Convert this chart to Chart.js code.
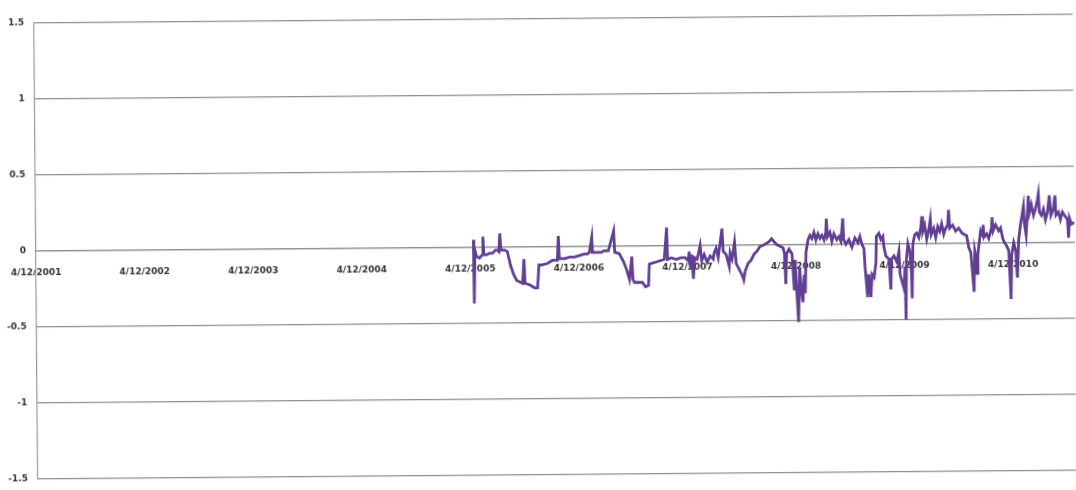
<!DOCTYPE html>
<html lang="en">
<head>
  <meta charset="UTF-8">
  <title>Series since 4/12/2001</title>
  <script src="https://cdn.jsdelivr.net/npm/chart.js"></script>
  <style>
    html, body { margin: 0; padding: 0; background: #fff; overflow: hidden; }
    /* the scanned page sits a little crooked */
    .wrap { width: 1076px; height: 490px; transform: rotate(-0.48deg); transform-origin: 50% 50%; }
  </style>
</head>
<body>
  <div class="wrap"><canvas id="lineChart"></canvas></div>

  <script>
    // x = years after 4/12/2001
    const tickLabels = ['4/12/2001', '4/12/2002', '4/12/2003', '4/12/2004', '4/12/2005',
                        '4/12/2006', '4/12/2007', '4/12/2008', '4/12/2009', '4/12/2010'];
    const xMax = 9.568;

    const xYears = [
      4.030, 4.034, 4.043, 4.057, 4.085, 4.112, 4.117, 4.126, 4.149, 4.177,
      4.204, 4.232, 4.250, 4.264, 4.273, 4.283, 4.315, 4.342, 4.370, 4.398,
      4.425, 4.480, 4.494, 4.503, 4.545, 4.591, 4.618, 4.632, 4.655, 4.710,
      4.756, 4.802, 4.812, 4.821, 4.867, 4.913, 4.959, 5.005, 5.051, 5.078,
      5.097, 5.120, 5.126, 5.161, 5.207, 5.235, 5.272, 5.322, 5.331, 5.373,
      5.410, 5.437, 5.465, 5.488, 5.497, 5.511, 5.557, 5.584, 5.612, 5.640,
      5.649, 5.695, 5.741, 5.787, 5.810, 5.817, 5.851, 5.897, 5.943, 5.980,
      6.008, 6.017, 6.026, 6.040, 6.054, 6.067, 6.090, 6.118, 6.132, 6.155,
      6.182, 6.210, 6.238, 6.247, 6.265, 6.284, 6.320, 6.330, 6.357, 6.385,
      6.394, 6.412, 6.435, 6.449, 6.477, 6.504, 6.518, 6.532, 6.560, 6.587,
      6.615, 6.642, 6.670, 6.707, 6.753, 6.776, 6.799, 6.826, 6.854, 6.882,
      6.895, 6.905, 6.914, 6.937, 6.964, 6.983, 6.992, 7.001, 7.020, 7.033,
      7.047, 7.061, 7.075, 7.084, 7.093, 7.112, 7.130, 7.148, 7.167, 7.185,
      7.204, 7.222, 7.240, 7.259, 7.277, 7.282, 7.291, 7.314, 7.332, 7.351,
      7.378, 7.397, 7.415, 7.434, 7.441, 7.461, 7.489, 7.516, 7.544, 7.572,
      7.590, 7.608, 7.627, 7.636, 7.650, 7.657, 7.668, 7.682, 7.688, 7.700,
      7.719, 7.737, 7.742, 7.765, 7.783, 7.802, 7.811, 7.829, 7.857, 7.872,
      7.880, 7.903, 7.930, 7.949, 7.958, 7.976, 7.995, 8.004, 8.010, 8.018,
      8.032, 8.050, 8.064, 8.068, 8.078, 8.096, 8.114, 8.133, 8.151, 8.163,
      8.170, 8.188, 8.206, 8.225, 8.240, 8.248, 8.271, 8.289, 8.308, 8.326,
      8.344, 8.363, 8.381, 8.400, 8.409, 8.418, 8.446, 8.473, 8.501, 8.528,
      8.547, 8.574, 8.593, 8.611, 8.639, 8.648, 8.666, 8.669, 8.676, 8.685,
      8.703, 8.722, 8.726, 8.735, 8.758, 8.777, 8.804, 8.809, 8.818, 8.841,
      8.869, 8.887, 8.906, 8.924, 8.942, 8.961, 8.979, 8.988, 9.007, 9.025,
      9.039, 9.053, 9.071, 9.090, 9.099, 9.108, 9.122, 9.136, 9.145, 9.154,
      9.172, 9.191, 9.209, 9.228, 9.237, 9.246, 9.264, 9.283, 9.301, 9.320,
      9.338, 9.352, 9.375, 9.390, 9.398, 9.421, 9.439, 9.458, 9.476, 9.504,
      9.513, 9.522, 9.540, 9.568
    ];

    const values = [
      0.05, -0.37, -0.02, -0.06, -0.07, -0.05, 0.07, -0.05, -0.05, -0.04,
      -0.04, -0.02, -0.02, -0.03, 0.09, -0.02, -0.02, -0.03, -0.12, -0.18,
      -0.22, -0.24, -0.08, -0.24, -0.25, -0.27, -0.27, -0.12, -0.12, -0.11,
      -0.09, -0.09, 0.07, -0.08, -0.08, -0.07, -0.07, -0.06, -0.05, -0.05,
      -0.04, 0.06, -0.04, -0.04, -0.04, -0.03, -0.03, 0.10, -0.04, -0.05,
      -0.10, -0.15, -0.22, -0.07, -0.22, -0.24, -0.24, -0.24, -0.27, -0.26,
      -0.12, -0.11, -0.10, -0.09, 0.12, -0.09, -0.08, -0.09, -0.08, -0.08,
      -0.10, -0.04, -0.14, -0.06, -0.22, -0.08, -0.09, 0.00, -0.10, -0.06,
      -0.11, -0.07, -0.09, -0.05, -0.02, -0.08, 0.11, -0.04, -0.06, -0.14,
      -0.05, -0.09, 0.02, -0.12, -0.16, -0.20, -0.23, -0.17, -0.12, -0.10,
      -0.06, -0.04, -0.01, 0.00, 0.02, 0.04, 0.02, 0.00, -0.01, -0.02,
      -0.06, -0.26, -0.06, -0.03, -0.06, -0.30, -0.10, -0.25, -0.51, -0.15,
      -0.30, -0.38, -0.20, -0.32, -0.05, 0.03, 0.06, 0.04, 0.08, 0.03,
      0.07, 0.04, 0.06, 0.03, 0.08, 0.17, 0.05, 0.08, 0.02, 0.07,
      0.03, 0.05, 0.02, 0.17, 0.03, 0.00, 0.03, -0.02, 0.04, 0.01,
      0.05, 0.00, -0.03, -0.15, -0.28, -0.35, -0.20, -0.30, -0.35, -0.20,
      -0.22, -0.12, 0.05, 0.07, 0.03, 0.05, -0.02, -0.08, -0.10, -0.30,
      -0.10, -0.08, -0.12, -0.05, -0.20, -0.25, -0.30, -0.15, -0.50, -0.10,
      0.00, -0.05, -0.20, -0.36, 0.00, 0.06, 0.07, 0.04, 0.10, 0.18,
      0.08, 0.12, 0.03, 0.09, 0.16, 0.06, 0.10, 0.04, 0.11, 0.08,
      0.13, 0.06, 0.10, 0.12, 0.22, 0.10, 0.12, 0.08, 0.10, 0.07,
      0.06, 0.05, -0.03, -0.06, -0.32, -0.05, -0.12, -0.20, -0.08, -0.02,
      0.08, 0.05, 0.12, 0.04, 0.06, 0.03, 0.10, 0.17, 0.08, 0.12,
      0.08, 0.10, 0.03, 0.00, -0.02, -0.05, -0.37, -0.08, 0.00, -0.05,
      -0.23, 0.02, 0.12, 0.20, 0.24, 0.12, 0.05, 0.20, 0.31, 0.20,
      0.25, 0.18, 0.22, 0.28, 0.32, 0.20, 0.18, 0.22, 0.15, 0.20,
      0.31, 0.18, 0.22, 0.31, 0.18, 0.20, 0.15, 0.20, 0.18, 0.15,
      0.03, 0.16, 0.12, 0.13
    ];

    const gridColor = '#8e8e8e';
    const tickFont = { family: 'DejaVu Sans', size: 9, weight: 'bold' };

    new Chart(document.getElementById('lineChart').getContext('2d'), {
      type: 'line',
      data: {
        datasets: [{
          data: xYears.map((x, i) => ({ x, y: values[i] })),
          borderColor: '#613f92',
          borderWidth: 2.8,
          borderJoinStyle: 'miter',
          pointRadius: 0,
          tension: 0,
          fill: false
        }]
      },
      options: {
        responsive: true,
        maintainAspectRatio: false,
        animation: false,
        layout: { padding: { top: 19, bottom: 14, left: 0, right: 0 } },
        plugins: { legend: { display: false }, tooltip: { enabled: false } },
        scales: {
          x: {
            type: 'linear',
            min: 0,
            max: xMax,
            position: { y: 0 },
            afterBuildTicks: scale => { scale.ticks = tickLabels.map((_, i) => ({ value: i })); },
            grid: { display: false },
            border: { display: true, color: gridColor, width: 1.2 },
            ticks: {
              color: '#333',
              font: tickFont,
              padding: 8,
              maxRotation: 0,
              autoSkip: false,
              callback: value => tickLabels[value]
            }
          },
          y: {
            min: -1.5,
            max: 1.5,
            afterFit: scale => { scale.width = 36; },
            grid: { color: gridColor, lineWidth: 1.2, drawTicks: false },
            border: { display: true, color: '#9a9a9a', width: 1.2 },
            ticks: {
              stepSize: 0.5,
              color: '#333',
              font: tickFont,
              padding: 10,
              callback: value => String(value)
            }
          }
        }
      }
    });
  </script>
</body>
</html>
